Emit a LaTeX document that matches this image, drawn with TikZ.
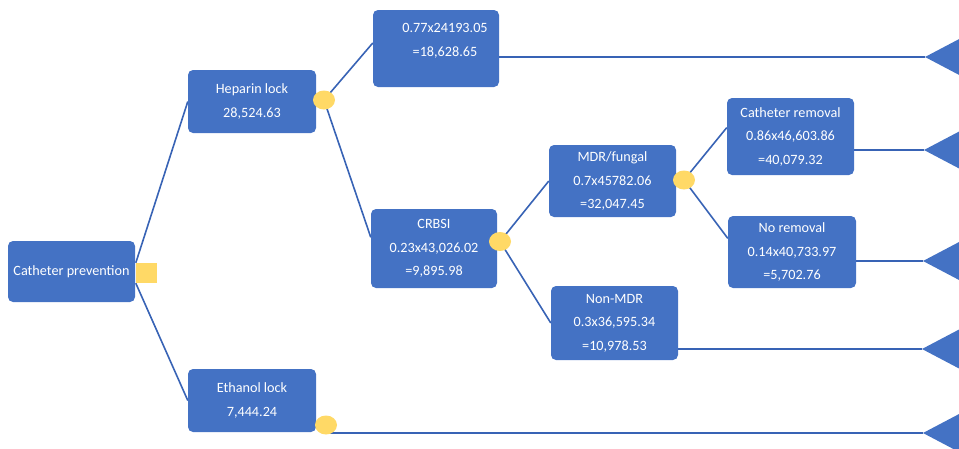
\documentclass[tikz,border=0pt]{standalone}
\usepackage{fontspec}
\setmainfont{Carlito}
\usetikzlibrary{shapes.geometric,backgrounds}
\definecolor{boxblue}{HTML}{4472C4}
\definecolor{lineblue}{HTML}{3863B5}
\definecolor{chanceyellow}{HTML}{FFD966}
\begin{document}
\begin{tikzpicture}[x=1pt,y=-1pt,
  box/.style={fill=boxblue, rounded corners=5pt, text=white, align=center,
    font=\fontsize{14.2}{23.5}\selectfont, inner sep=0pt},
  conn/.style={draw=lineblue, line width=1.6pt},
  chance/.style={ellipse, fill=chanceyellow, minimum width=22pt, minimum height=19pt, inner sep=0pt},
  decision/.style={rectangle, fill=chanceyellow, minimum width=21pt, minimum height=20pt, inner sep=0pt},
  terminal/.style={fill=boxblue}]
\useasboundingbox (0,0) rectangle (959,448);

% boxes
\node[box, minimum width=127pt, minimum height=61pt] (cp) at (71.5,271.5) {Catheter prevention};
\node[box, minimum width=128pt, minimum height=63pt] (hep) at (252,101.5) {Heparin lock\\28,524.63};
\node[box, minimum width=128pt, minimum height=63pt] (eth) at (252,400.5) {Ethanol lock\\7,444.24};
\node[box, minimum width=126pt, minimum height=77pt, text depth=17pt] (b077) at (436,48.5)
  {\hspace*{18pt}0.77x24193.05\\\hspace*{18pt}=18,628.65};
\node[box, minimum width=126pt, minimum height=79pt] (crbsi) at (434,248.5) {CRBSI\\0.23x43,026.02\\=9,895.98};
\node[box, minimum width=127pt, minimum height=72pt] (mdr) at (612.5,181) {MDR/fungal\\0.7x45782.06\\=32,047.45};
\node[box, minimum width=127pt, minimum height=74pt] (nmdr) at (614.5,323) {Non-MDR\\0.3x36,595.34\\=10,978.53};
\node[box, minimum width=127pt, minimum height=77pt] (cr) at (790.5,136.5) {Catheter removal\\0.86x46,603.86\\=40,079.32};
\node[box, minimum width=128pt, minimum height=72pt] (nr) at (792,252) {No removal\\0.14x40,733.97\\=5,702.76};

% decision and chance nodes
\node[decision] (sq) at (146.5,273) {};
\node[chance] (hc) at (324,100) {};
\node[chance] (cc) at (500,241.5) {};
\node[chance] (mc) at (684,180) {};
\node[chance] (ec) at (326,425) {};

% terminal tips
\coordinate (t1) at (925,57);
\coordinate (t2) at (924,150);
\coordinate (t3) at (923,261);
\coordinate (t4) at (922,349);
\coordinate (t5) at (923,433);
\foreach \t in {t1,t2,t3,t4,t5}
  \fill[terminal] (\t) -- ++(38,-20) -- ++(0,40) -- cycle;

\begin{scope}[on background layer]
\draw[conn] (sq.north west) -- (hep.west);
\draw[conn] (sq.south west) -- (eth.west);
\draw[conn] (hc.center) -- (b077.175);
\draw[conn] (hc.center) -- (crbsi.170);
\draw[conn] (cc.center) -- (mdr.west);
\draw[conn] (cc.center) -- (nmdr.west);
\draw[conn] (mc.center) -- (cr.172);
\draw[conn] (mc.center) -- (nr.168);
\draw[conn] (t1 -| b077.east) -- (t1);
\draw[conn] (t2 -| cr.east) -- (t2);
\draw[conn] (t3 -| nr.east) -- (t3);
\draw[conn] (t4 -| nmdr.east) -- (t4);
\draw[conn] (ec.center |- t5) -- (t5);
\end{scope}
\end{tikzpicture}
\end{document}
